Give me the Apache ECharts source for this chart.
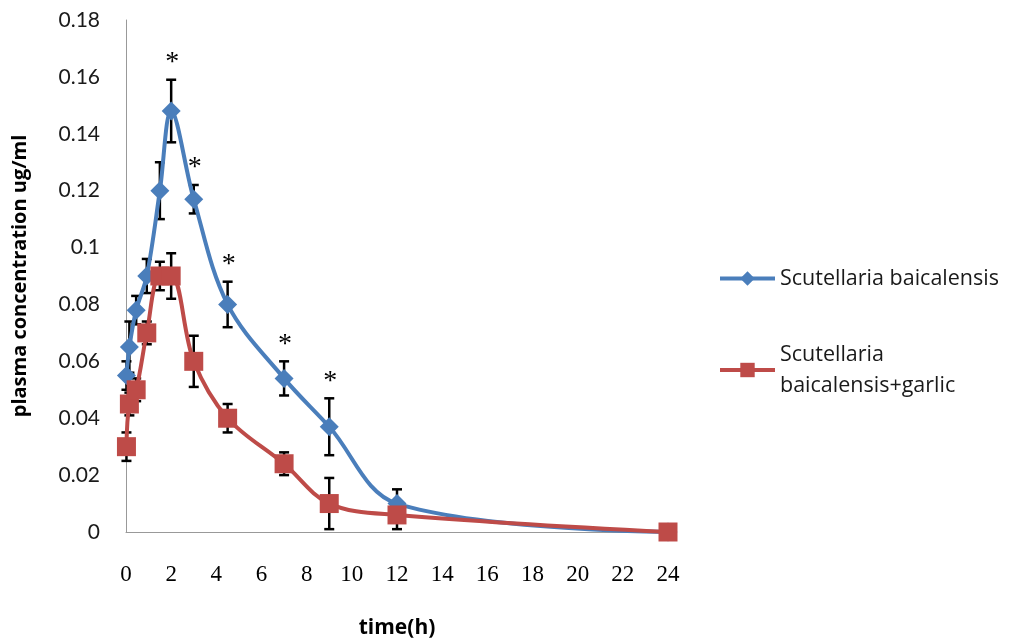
<!DOCTYPE html>
<html>
<head>
<meta charset="utf-8">
<script src="https://cdn.jsdelivr.net/npm/echarts@6/dist/echarts.min.js"></script>
<style>html,body{margin:0;padding:0;background:#fff;}#c{width:1011px;height:644px;}</style>
</head>
<body>
<div id="c"></div>
<script>
const times = [0.02, 0.15, 0.45, 0.92, 1.5, 2, 3, 4.5, 7, 9, 12, 24];
const blueName = 'Scutellaria baicalensis';
const redName = 'Scutellaria baicalensis+garlic';
const blueVals = [0.055, 0.065, 0.078, 0.090, 0.120, 0.148, 0.117, 0.080, 0.054, 0.037, 0.010, 0];
const blueErr  = [0.005, 0.009, 0.005, 0.006, 0.010, 0.011, 0.005, 0.008, 0.006, 0.010, 0.005, 0];
const redVals  = [0.030, 0.045, 0.050, 0.070, 0.090, 0.090, 0.060, 0.040, 0.024, 0.010, 0.006, 0];
const redErr   = [0.005, 0.004, 0.004, 0.004, 0.005, 0.008, 0.009, 0.005, 0.004, 0.009, 0.005, 0];
const starIdx  = [5, 6, 7, 8, 9];
const xTicks = {min: 0, max: 24, interval: 2};
const yTicks = {min: 0, max: 0.18, interval: 0.02};

const pair = (vals) => times.map((t, i) => [t, vals[i]]);
const errData = (vals, errs) => times.map((t, i) => [t, vals[i] - errs[i], vals[i] + errs[i]]).filter((d, i) => errs[i] > 0);
const starData = starIdx.map(i => [times[i], blueVals[i] + blueErr[i]]);

function renderErr(params, api) {
  const x = api.value(0), lo = api.value(1), hi = api.value(2);
  const top = api.coord([x, hi]);
  const bot = api.coord([x, lo]);
  const w = 5;
  const st = {stroke: '#000', lineWidth: 2.5};
  return {type: 'group', children: [
    {type: 'line', shape: {x1: top[0], y1: top[1], x2: bot[0], y2: bot[1]}, style: st},
    {type: 'line', shape: {x1: top[0] - w, y1: top[1], x2: top[0] + w, y2: top[1]}, style: st},
    {type: 'line', shape: {x1: bot[0] - w, y1: bot[1], x2: bot[0] + w, y2: bot[1]}, style: st}
  ]};
}

function renderStar(params, api) {
  const p = api.coord([api.value(0), api.value(1)]);
  return {type: 'text', style: {text: '*', x: p[0] + 1, y: p[1] - 3, align: 'center', verticalAlign: 'bottom',
    font: '28px "Liberation Serif"', fill: '#000'}};
}

const chart = echarts.init(document.getElementById('c'));
chart.setOption({
  animation: false,
  backgroundColor: '#fff',
  grid: {left: 126, right: 343, top: 20, bottom: 111, containLabel: false},
  legend: {
    orient: 'vertical', left: 713, top: 258, itemGap: 45,
    itemWidth: 55, itemHeight: 18,
    data: [blueName, redName],
    lineStyle: {width: 4},
    formatter: n => n === redName ? 'Scutellaria\nbaicalensis+garlic' : n,
    textStyle: {fontFamily: 'Open Sans', fontSize: 21.5, color: '#1a1a1a', lineHeight: 31}
  },
  xAxis: {
    type: 'value', min: xTicks.min, max: xTicks.max, interval: xTicks.interval,
    name: 'time(h)', nameLocation: 'middle', nameGap: 86,
    nameTextStyle: {fontFamily: 'Open Sans', fontWeight: 'bold', fontSize: 21, color: '#000'},
    axisLine: {show: true, lineStyle: {color: '#999', width: 1}},
    axisTick: {show: false}, splitLine: {show: false},
    axisLabel: {margin: 31, fontFamily: 'Liberation Serif', fontSize: 23, color: '#000'}
  },
  yAxis: {
    type: 'value', min: yTicks.min, max: yTicks.max, interval: yTicks.interval,
    name: 'plasma concentration ug/ml', nameLocation: 'middle', nameGap: 96,
    nameTextStyle: {fontFamily: 'Open Sans', fontWeight: 'bold', fontSize: 20, color: '#000'},
    axisLine: {show: true, lineStyle: {color: '#999', width: 1}},
    axisTick: {show: false}, splitLine: {show: false},
    axisLabel: {margin: 26, fontFamily: 'Lato', fontSize: 21, color: '#1a1a1a'}
  },
  series: [
    {type: 'custom', name: 'errBlue', renderItem: renderErr, data: errData(blueVals, blueErr), z: 1, silent: true},
    {type: 'custom', name: 'errRed', renderItem: renderErr, data: errData(redVals, redErr), z: 1, silent: true},
    {type: 'line', name: blueName, data: pair(blueVals), smooth: 0.35, symbol: 'diamond', symbolSize: 19,
     lineStyle: {color: '#4A7EBB', width: 4}, itemStyle: {color: '#4A7EBB'}, z: 3},
    {type: 'line', name: redName, data: pair(redVals), smooth: 0.35, symbol: 'rect', symbolSize: 19,
     lineStyle: {color: '#BE4B48', width: 4}, itemStyle: {color: '#BE4B48'}, z: 4},
    {type: 'custom', name: 'stars', renderItem: renderStar, data: starData, z: 5, silent: true}
  ]
});
</script>
</body>
</html>
